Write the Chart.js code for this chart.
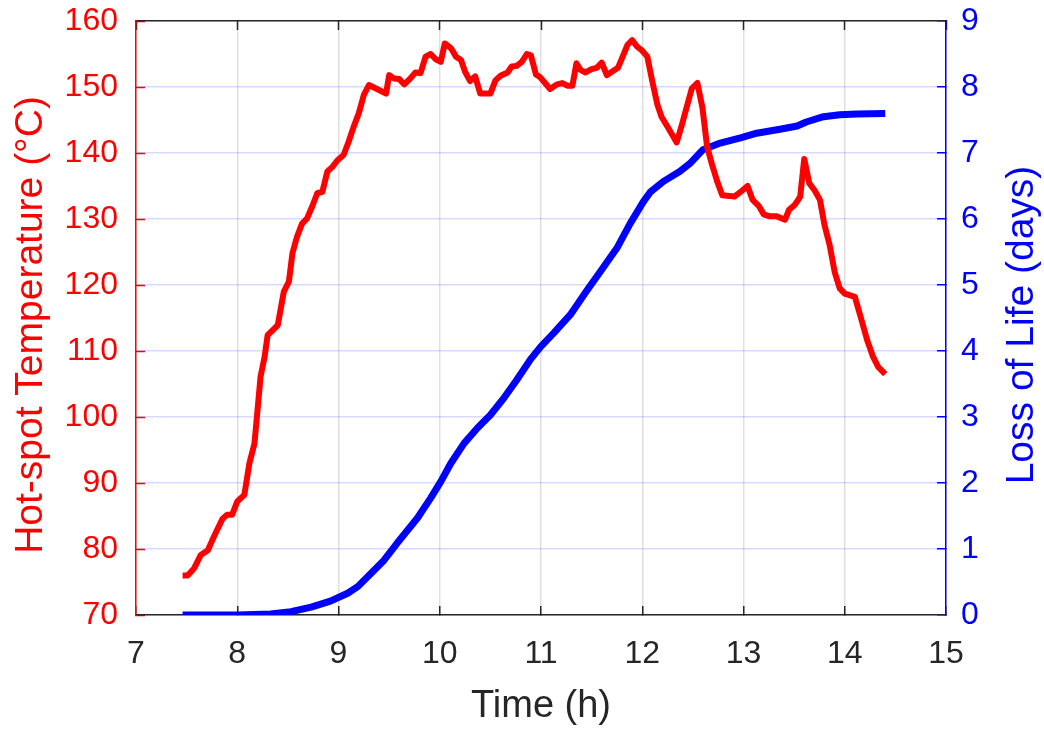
<!DOCTYPE html>
<html>
<head>
<meta charset="utf-8">
<script src="https://cdn.jsdelivr.net/npm/chart.js@4/dist/chart.umd.min.js"></script>
<style>
  html, body { margin: 0; padding: 0; background: #ffffff; }
  canvas { display: block; }
</style>
</head>
<body>
<canvas id="chart" width="1044" height="729"></canvas>
<script>
// Hot-spot temperature (°C) over the day
const tempTime = [7.46, 7.51, 7.575, 7.64, 7.71, 7.77, 7.855, 7.90, 7.95, 8.00, 8.07, 8.12, 8.17, 8.20, 8.23, 8.27, 8.30, 8.40, 8.46, 8.51,
  8.545, 8.59, 8.64, 8.69, 8.74, 8.79, 8.84, 8.89, 8.94, 8.99, 9.05, 9.10, 9.15, 9.20, 9.25, 9.30, 9.38, 9.47, 9.50, 9.55,
  9.60, 9.65, 9.71, 9.76, 9.81, 9.86, 9.91, 9.96, 10.01, 10.05, 10.11, 10.16, 10.21, 10.25, 10.30, 10.35, 10.40, 10.45, 10.50, 10.55,
  10.60, 10.67, 10.71, 10.76, 10.81, 10.86, 10.90, 10.95, 10.99, 11.04, 11.09, 11.16, 11.21, 11.26, 11.31, 11.35, 11.39, 11.44, 11.50, 11.55,
  11.60, 11.65, 11.70, 11.76, 11.82, 11.855, 11.90, 11.95, 12.00, 12.05, 12.10, 12.15, 12.19, 12.26, 12.34, 12.39, 12.44, 12.49, 12.545, 12.595,
  12.64, 12.69, 12.74, 12.79, 12.86, 12.91, 12.97, 13.04, 13.09, 13.15, 13.20, 13.26, 13.33, 13.41, 13.45, 13.51, 13.56, 13.60, 13.65, 13.70,
  13.755, 13.80, 13.85, 13.90, 13.95, 14.00, 14.10, 14.16, 14.22, 14.28, 14.33, 14.40];
const tempValues = [76.0, 76.0, 77.1, 79.1, 79.8, 81.9, 84.6, 85.2, 85.2, 87.2, 88.2, 93.0, 96.0, 101.0, 106.1, 109.1, 112.4, 113.9, 119.0, 120.5,
  124.8, 127.3, 129.3, 130.1, 131.9, 133.9, 134.1, 137.2, 137.9, 138.9, 139.7, 141.7, 144.0, 146.0, 148.8, 150.3, 149.7, 149.0, 151.8, 151.3,
  151.2, 150.4, 151.3, 152.2, 152.1, 154.6, 155.0, 154.2, 153.8, 156.6, 155.9, 154.6, 154.1, 152.3, 150.9, 151.6, 149.0, 149.0, 149.0, 151.0,
  151.7, 152.2, 153.1, 153.2, 153.8, 155.0, 154.8, 151.9, 151.5, 150.6, 149.7, 150.4, 150.6, 150.2, 150.2, 153.6, 152.6, 152.2, 152.7, 152.9,
  153.7, 151.8, 152.3, 152.9, 155.1, 156.4, 157.1, 156.1, 155.5, 154.6, 150.8, 147.3, 145.5, 143.7, 141.6, 144.2, 147.0, 149.8, 150.6, 146.8,
  141.0, 138.2, 135.7, 133.6, 133.5, 133.4, 134.1, 135.0, 132.9, 132.0, 130.7, 130.4, 130.4, 129.9, 131.4, 132.2, 133.4, 139.1, 135.4, 134.4,
  132.9, 129.1, 126.1, 122.0, 119.5, 118.7, 118.2, 115.0, 111.7, 109.1, 107.6, 106.5];

// Accumulated loss of life (days)
const lolTime = [7.46, 8.00, 8.33, 8.53, 8.73, 8.92, 9.09, 9.19, 9.32, 9.45, 9.58, 9.78, 9.91, 10.01, 10.11, 10.24, 10.37, 10.50, 10.63, 10.76,
  10.90, 11.00, 11.125, 11.29, 11.455, 11.585, 11.75, 11.88, 12.01, 12.08, 12.21, 12.37, 12.47, 12.60, 12.77, 12.97, 13.13, 13.36, 13.53, 13.62,
  13.79, 13.95, 14.12, 14.40];
const lolValues = [0.0, 0.0, 0.015, 0.05, 0.12, 0.21, 0.33, 0.43, 0.63, 0.83, 1.09, 1.47, 1.77, 2.02, 2.30, 2.60, 2.83, 3.03, 3.28, 3.56,
  3.88, 4.07, 4.27, 4.55, 4.92, 5.20, 5.56, 5.93, 6.26, 6.41, 6.57, 6.72, 6.84, 7.05, 7.15, 7.23, 7.30, 7.36, 7.41, 7.47,
  7.55, 7.58, 7.59, 7.60];

const FONT = "'Liberation Sans', Arial, Helvetica, sans-serif";
const RED = '#ff0000';
const BLUE = '#0000ff';
const DARK = '#262626';

Chart.defaults.font.family = FONT;

const toPoints = (xs, ys) => xs.map((x, i) => ({ x: x, y: ys[i] }));

// Fixed axis box sizes so the plot area sits at a known place
const fixSize = (w, h) => (scale) => {
  if (w !== null) scale.width = w;
  if (h !== null) scale.height = h;
  scale.paddingTop = 0;
  scale.paddingBottom = 0;
  scale.paddingLeft = 0;
  scale.paddingRight = 0;
};

// Both y-axis titles, rotated to read bottom-to-top
const yAxisTitles = {
  id: 'yAxisTitles',
  afterDraw(chart) {
    const area = chart.chartArea;
    const ctx = chart.ctx;
    const midY = (area.top + area.bottom) / 2 + 7;
    const draw = (text, x, color) => {
      ctx.save();
      ctx.translate(x, midY);
      ctx.rotate(-Math.PI / 2);
      ctx.font = '39px ' + FONT;
      ctx.fillStyle = color;
      ctx.textAlign = 'center';
      ctx.textBaseline = 'alphabetic';
      ctx.fillText(text, 0, 0);
      ctx.restore();
    };
    draw('Hot-spot Temperature (°C)', chart.scales.y.left + 42, RED);
    draw('Loss of Life (days)', chart.scales.y1.right - 11, BLUE);
  }
};

new Chart(document.getElementById('chart'), {
  type: 'line',
  data: {
    datasets: [
      {
        label: 'Hot-spot Temperature',
        data: toPoints(tempTime, tempValues),
        xAxisID: 'x',
        yAxisID: 'y',
        borderColor: RED,
        borderWidth: 6,
        borderJoinStyle: 'round',
        borderCapStyle: 'butt',
        pointRadius: 0,
        tension: 0,
        fill: false
      },
      {
        label: 'Loss of Life',
        data: toPoints(lolTime, lolValues),
        xAxisID: 'x',
        yAxisID: 'y1',
        borderColor: BLUE,
        borderWidth: 7,
        borderJoinStyle: 'round',
        borderCapStyle: 'butt',
        pointRadius: 0,
        tension: 0,
        fill: false
      }
    ]
  },
  options: {
    responsive: false,
    animation: false,
    devicePixelRatio: 1,
    layout: { padding: { top: 21, left: 0, right: 0, bottom: 0 } },
    plugins: {
      legend: { display: false },
      tooltip: { enabled: false }
    },
    scales: {
      x: {
        type: 'linear',
        position: 'bottom',
        min: 7,
        max: 15,
        ticks: { stepSize: 1, color: DARK, font: { size: 32 }, padding: 29, maxRotation: 0, autoSkip: false },
        grid: { color: 'rgba(38,38,38,0.15)', lineWidth: 1.5, tickColor: DARK, tickLength: -9, tickWidth: 1.5 },
        border: { color: DARK, width: 1.5 },
        title: { display: true, text: 'Time (h)', color: DARK, font: { size: 38 }, padding: { top: 0, bottom: 0 } },
        afterFit: fixSize(null, 114)
      },
      xTop: {
        type: 'linear',
        position: 'top',
        min: 7,
        max: 15,
        ticks: { stepSize: 1, display: false },
        grid: { drawOnChartArea: false, tickColor: DARK, tickLength: -9, tickWidth: 1.5 },
        border: { color: DARK, width: 1.5 },
        afterFit: fixSize(null, 0)
      },
      y: {
        type: 'linear',
        position: 'left',
        min: 70,
        max: 160,
        ticks: { stepSize: 10, color: RED, font: { size: 32 }, padding: 27 },
        grid: { drawOnChartArea: false, tickColor: RED, tickLength: -9, tickWidth: 1.5 },
        border: { color: RED, width: 1.5 },
        afterFit: fixSize(136, null)
      },
      y1: {
        type: 'linear',
        position: 'right',
        min: 0,
        max: 9,
        ticks: { stepSize: 1, color: BLUE, font: { size: 32 }, padding: 24 },
        grid: { color: 'rgba(0,0,255,0.15)', lineWidth: 1.5, tickColor: BLUE, tickLength: -9, tickWidth: 1.5 },
        border: { color: BLUE, width: 1.5 },
        afterFit: fixSize(98, null)
      }
    }
  },
  plugins: [yAxisTitles]
});
</script>
</body>
</html>
